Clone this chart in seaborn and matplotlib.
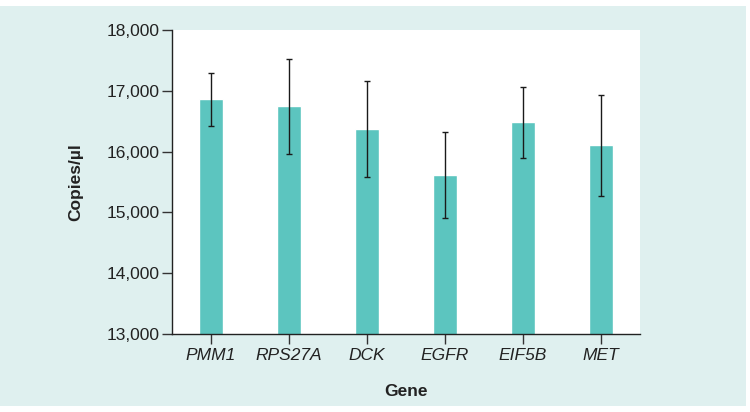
import pandas as pd
import matplotlib.pyplot as plt
import matplotlib.patches as mpatches
from matplotlib.ticker import FuncFormatter
import seaborn as sns

# Values
genes = ["PMM1", "RPS27A", "DCK", "EGFR", "EIF5B", "MET"]
copies = [16860, 16755, 16367, 15615, 16487, 16109]
err_low = [16416, 15956, 15582, 14908, 15895, 15270]
err_high = [17293, 17528, 17156, 16322, 17063, 16931]

bar_color = "#5cc5bf"
bg_color = "#dff0ef"

sns.set_theme(style="white")
plt.rcParams["font.family"] = ["Liberation Sans", "DejaVu Sans"]

df = pd.DataFrame({"Gene": genes, "Copies": copies})

fig = plt.figure(figsize=(7.5, 4.12), dpi=100)
fig.patch.set_facecolor("white")
# tinted panel behind the chart
fig.patches.append(mpatches.Rectangle((0, 6 / 412), 746 / 750, 400 / 412,
                                      transform=fig.transFigure, facecolor=bg_color,
                                      edgecolor="none", zorder=-1))

ax = fig.add_axes([172 / 750, 1 - 334 / 412, 468 / 750, 304 / 412])
ax.set_facecolor("white")

sns.barplot(data=df, x="Gene", y="Copies", color=bar_color, saturation=1,
            width=0.32, errorbar=None, ax=ax, zorder=2)

lower = [c - lo for c, lo in zip(copies, err_low)]
upper = [hi - c for c, hi in zip(copies, err_high)]
ax.errorbar(range(len(genes)), copies, yerr=[lower, upper], fmt="none",
            ecolor="#1a1a1a", elinewidth=1.0, capsize=2.5, capthick=1.0, zorder=3)

ax.set_ylim(13000, 18000)
ax.set_xlim(-0.5, 5.5)
ax.set_yticks([13000, 14000, 15000, 16000, 17000, 18000])
ax.yaxis.set_major_formatter(FuncFormatter(lambda v, p: f"{int(v):,}"))

for side in ["top", "right"]:
    ax.spines[side].set_visible(False)
for side in ["left", "bottom"]:
    ax.spines[side].set_color("#222222")
    ax.spines[side].set_linewidth(1.0)

ax.tick_params(axis="both", which="major", direction="out", length=7, width=1.0,
               color="#333333", labelsize=12.5, labelcolor="#222222", pad=3,
               left=True, bottom=True)
ax.tick_params(axis="y", pad=2)
for lbl in ax.get_xticklabels():
    lbl.set_fontstyle("italic")

ax.set_xlabel("Gene", fontsize=12.5, fontweight="bold", color="#222222", labelpad=15)
ax.set_ylabel("Copies/\u00b5l", fontsize=12.5, fontweight="bold", color="#222222", labelpad=17)

fig.savefig("out.png", dpi=100, facecolor=fig.get_facecolor())
